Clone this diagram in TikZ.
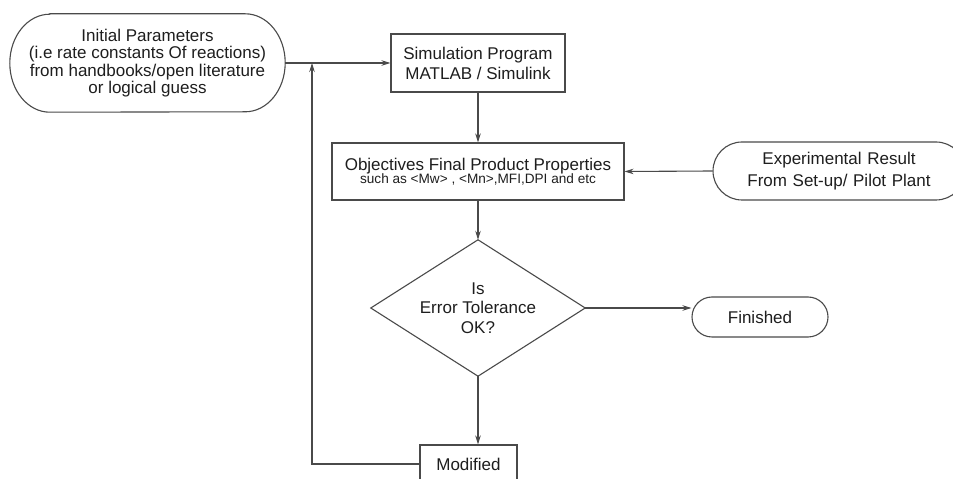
\documentclass[tikz,border=0pt]{standalone}
\usepackage{fontspec}
\setmainfont{Liberation Sans}
\usetikzlibrary{arrows.meta,calc}
\definecolor{linec}{HTML}{4A4A4A}
\definecolor{textc}{HTML}{1E1E1E}
\tikzset{
  conn/.style={draw=linec, line width=1.1pt},
  arr/.style={conn, -{Stealth[length=9pt,width=5.5pt]}},
  boxed/.style={draw=linec, line width=1.1pt, rectangle, inner sep=0pt, align=center, text=textc},
  plain/.style={rectangle, inner sep=0pt, align=center, text=textc},
}
\begin{document}
\begin{tikzpicture}[x=1pt,y=1pt]
\path[use as bounding box, clip] (0,0) rectangle (953,479);
\fill[white] (0,0) rectangle (953,479);

% Initial parameters (terminator with elliptic ends)
\node[plain, minimum width=275pt, minimum height=98pt,
      font=\fontsize{17}{17.4}\selectfont] (init) at (147.5,416)
  {Initial Parameters\\(i.e rate constants Of reactions)\\from handbooks/open literature\\or logical guess};
\draw[conn] ([xshift=40pt]init.north west) -- ([xshift=-40pt]init.north east)
  arc[start angle=90, end angle=-90, x radius=40pt, y radius=49pt]
  -- ([xshift=40pt]init.south west)
  arc[start angle=270, end angle=90, x radius=40pt, y radius=49pt] -- cycle;

% Simulation program
\node[boxed, minimum width=174pt, minimum height=58pt,
      font=\fontsize{17}{20}\selectfont] (sim) at (478,416)
  {Simulation Program\\MATLAB / Simulink};

% Objectives
\node[boxed, minimum width=292pt, minimum height=57pt] (obj) at (478,307.5)
  {\fontsize{17}{19}\selectfont Objectives Final Product Properties\\[-1pt]
   \fontsize{13.6}{15}\selectfont such as <Mw> , <Mn>,MFI,DPI and etc};

% Experimental result
\node[boxed, rounded corners=29pt, minimum width=252pt, minimum height=58pt,
      font=\fontsize{17}{21.5}\selectfont, text width=250pt] (exp) at (839,308)
  {Experimental Result\\From Set-up/ Pilot Plant};

% Decision
\node[plain, minimum width=214pt, minimum height=136pt,
      font=\fontsize{17}{19.5}\selectfont] (dec) at (478,171)
  {Is\\Error Tolerance\\OK?};
\draw[conn] (dec.north) -- (dec.east) -- (dec.south) -- (dec.west) -- cycle;

% Finished
\node[boxed, rounded corners=20pt, minimum width=136pt, minimum height=40pt,
      font=\fontsize{17}{20}\selectfont] (fin) at (760,162) {Finished};

% Modified
\node[boxed, minimum width=97pt, minimum height=38pt,
      font=\fontsize{17}{20}\selectfont] (mod) at (468.5,15) {Modified};

% Connectors
\coordinate (join) at (312,416);
\draw[arr] (init.east) -- (sim.west);
\draw[arr] (sim.south) -- (obj.north);
\draw[arr] (exp.west) -- (obj.east);
\draw[arr] (obj.south) -- (dec.north);
\draw[arr] (dec.east) -- (fin.west |- dec.east);
\draw[arr] (dec.south) -- (dec.south |- mod.north);
\draw[arr] (mod.west) -| (join);
\end{tikzpicture}
\end{document}
